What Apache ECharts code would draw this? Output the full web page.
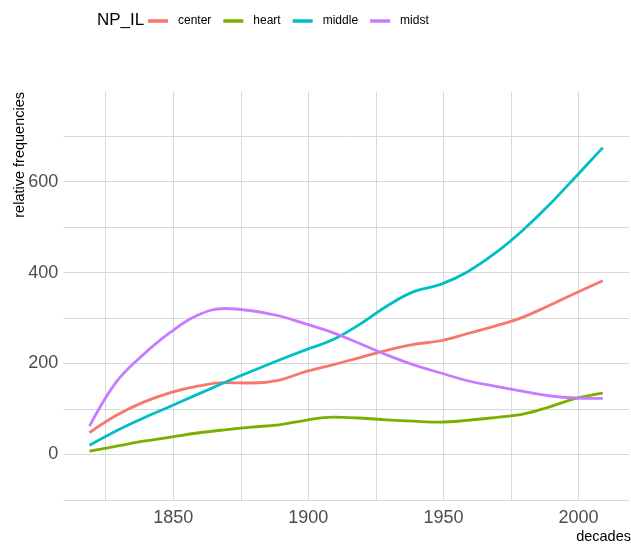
<!DOCTYPE html>
<html>
<head>
<meta charset="utf-8">
<script src="https://cdn.jsdelivr.net/npm/echarts@6/dist/echarts.min.js"></script>
<style>
html,body{margin:0;padding:0;background:#fff;}
#chart{width:631px;height:545px;}
</style>
</head>
<body>
<div id="chart"></div>
<script>
var decades = [1819, 1829, 1839, 1849, 1859, 1869, 1879, 1889, 1899, 1909, 1919, 1929, 1939, 1949, 1959, 1969, 1979, 1989, 1999, 2009];
var seriesNames = ['center', 'heart', 'middle', 'midst'];
var center = [48, 86, 115, 136, 150, 158, 157, 163, 182, 197, 213, 229, 242, 250, 266, 282, 301, 327, 355, 382];
var heart  = [7, 18, 29, 38, 47, 54, 60, 65, 75, 82, 80, 76, 73, 71, 75, 81, 88, 104, 123, 135];
var middle = [20, 52, 80, 106, 132, 158, 183, 207, 230, 252, 286, 326, 358, 374, 402, 442, 491, 548, 611, 675];
var midst  = [62, 160, 220, 269, 306, 321, 316, 305, 287, 268, 244, 219, 197, 179, 162, 150, 139, 129, 124, 123];
var xLabelTicks = [1850, 1900, 1950, 2000];
var xGridTicks = [1825, 1850, 1875, 1900, 1925, 1950, 1975, 2000];
var yLabelTicks = [0, 200, 400, 600];
var yGridTicks = [-100, 0, 100, 200, 300, 400, 500, 600, 700];
var colors = ['#F8766D', '#7CAE00', '#00BFC4', '#C77CFF'];
var allValues = [center, heart, middle, midst];

function pairs(vals) {
  return decades.map(function (d, i) { return [d, vals[i]]; });
}

var chart = echarts.init(document.getElementById('chart'), null, {renderer: 'canvas'});
var gridColor = '#d9d9d9';
var fontFam = 'Liberation Sans, Arial, sans-serif';
chart.setOption({
  animation: false,
  backgroundColor: '#ffffff',
  color: colors,
  title: {
    text: 'NP_IL',
    left: 97,
    top: 12,
    padding: 0,
    textStyle: {fontFamily: fontFam, fontSize: 17, fontWeight: 'normal', color: '#000'}
  },
  legend: {
    left: 148,
    top: 15,
    padding: 0,
    icon: 'rect',
    itemWidth: 20,
    itemHeight: 3.5,
    itemGap: 12,
    data: seriesNames,
    textStyle: {fontFamily: fontFam, fontSize: 12, color: '#000', padding: [0, 0, 0, 5]}
  },
  grid: {left: 63.3, right: 2, top: 91.7, bottom: 45},
  xAxis: {
    type: 'value',
    min: 1809.3,
    max: 2018.7,
    axisLine: {show: false},
    axisTick: {show: false, customValues: xGridTicks},
    axisLabel: {
      customValues: xLabelTicks,
      formatter: function (v) { return String(v); },
      margin: 9,
      fontFamily: fontFam,
      fontSize: 18,
      color: '#4D4D4D'
    },
    splitLine: {show: true, lineStyle: {color: gridColor, width: 1}}
  },
  yAxis: {
    type: 'value',
    min: -100.4,
    max: 798,
    axisLine: {show: false},
    axisTick: {show: false, customValues: yGridTicks},
    axisLabel: {
      customValues: yLabelTicks,
      formatter: function (v) { return String(v); },
      margin: 5,
      fontFamily: fontFam,
      fontSize: 18,
      color: '#4D4D4D'
    },
    splitLine: {show: true, lineStyle: {color: gridColor, width: 1}}
  },
  graphic: [
    {
      type: 'text',
      x: 20,
      y: 92,
      rotation: Math.PI / 2,
      style: {
        text: 'relative frequencies',
        fontFamily: fontFam,
        fontSize: 14.5,
        fill: '#000',
        align: 'right',
        verticalAlign: 'middle'
      }
    },
    {
      type: 'text',
      x: 631,
      y: 537,
      style: {
        text: 'decades',
        fontFamily: fontFam,
        fontSize: 14.5,
        fill: '#000',
        align: 'right',
        verticalAlign: 'middle'
      }
    }
  ],
  series: seriesNames.map(function (name, i) {
    return {
      name: name,
      type: 'line',
      data: pairs(allValues[i]),
      smooth: 0.4,
      showSymbol: false,
      symbol: 'none',
      lineStyle: {width: 2.8, color: colors[i]},
      itemStyle: {color: colors[i]}
    };
  })
});
</script>
</body>
</html>
